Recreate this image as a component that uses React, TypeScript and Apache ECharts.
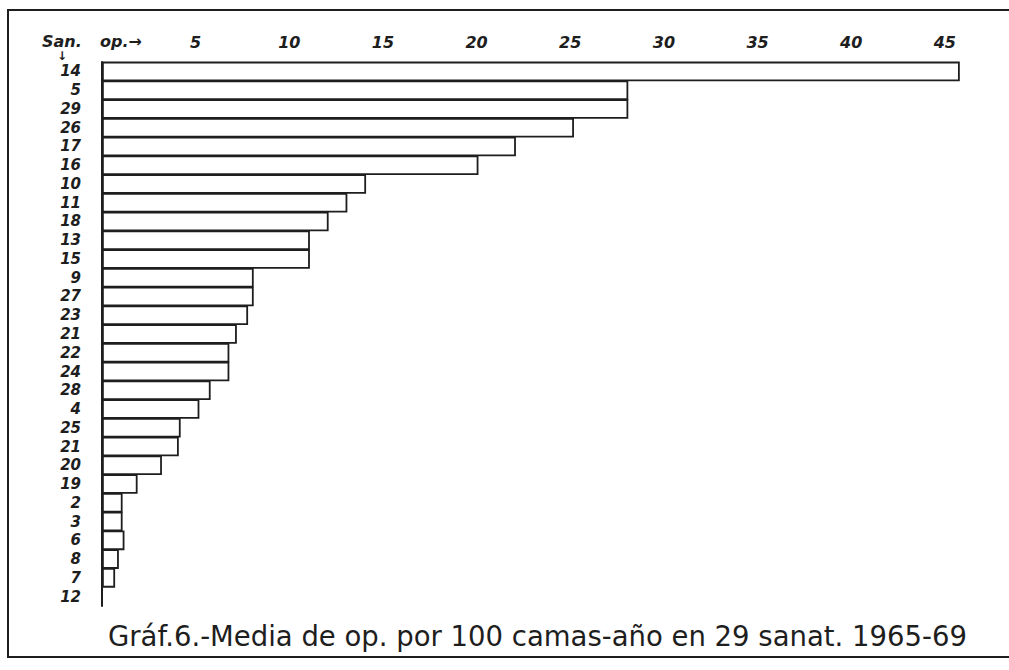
import React, { useEffect, useRef } from "react";
import * as echarts from "echarts";

const sanatoria = ["14", "5", "29", "26", "17", "16", "10", "11", "18", "13", "15", "9", "27", "23", "21", "22", "24", "28", "4", "25", "21", "20", "19", "2", "3", "6", "8", "7", "12"];
const operations = [45.8, 28.1, 28.1, 25.2, 22.1, 20.1, 14.1, 13.1, 12.1, 11.1, 11.1, 8.1, 8.1, 7.8, 7.2, 6.8, 6.8, 5.8, 5.2, 4.2, 4.1, 3.2, 1.9, 1.1, 1.1, 1.2, 0.9, 0.7, 0];
const tickValues = [5, 10, 15, 20, 25, 30, 35, 40, 45];
const titleText = "Gráf.6.-Media de op. por 100 camas-año en 29 sanat. 1965-69";

export default function App() {
  const ref = useRef<HTMLDivElement>(null);
  useEffect(() => {
    if (!ref.current) return;
    const chart = echarts.init(ref.current, null, { renderer: "svg" });
    const ink = "#1e1e1e";
    const labelFont = { fontFamily: "DejaVu Sans", fontStyle: "italic" as const, fontWeight: "bold" as const };
    chart.setOption({
      animation: false,
      backgroundColor: "#ffffff",
      title: {
        text: titleText,
        left: 103,
        top: 617,
        textStyle: { fontFamily: "DejaVu Sans", fontWeight: "normal", fontSize: 27.5, color: ink },
      },
      grid: { left: 102, top: 62, bottom: 64, right: 8, containLabel: false },
      xAxis: {
        type: "value",
        position: "top",
        min: 0,
        max: 48,
        interval: 5,
        axisLine: { show: false },
        axisTick: { show: false },
        splitLine: { show: false },
        axisLabel: {
          margin: 12,
          showMaxLabel: false,
          ...labelFont,
          fontSize: 16,
          color: ink,
          formatter: (v: number) => (tickValues.indexOf(v) >= 0 ? String(v) : ""),
        },
      },
      yAxis: {
        type: "category",
        inverse: true,
        data: sanatoria,
        axisLine: { show: true, lineStyle: { color: ink, width: 2 } },
        axisTick: { show: false },
        axisLabel: { interval: 0, margin: 21, ...labelFont, fontSize: 15, color: ink, align: "right" },
      },
      series: [
        {
          type: "bar",
          data: operations,
          barWidth: 19.6,
          itemStyle: { color: "#ffffff", borderColor: ink, borderWidth: 1.8 },
        },
      ],
      graphic: [
        {
          type: "polyline",
          shape: { points: [[1009, 10], [8, 10], [8, 657], [1009, 657]] },
          style: { stroke: ink, lineWidth: 2, fill: "none" },
        },
        {
          type: "text",
          x: 42,
          y: 33,
          style: { text: "San.", ...labelFont, fontSize: 16, fill: ink },
        },
        {
          type: "text",
          x: 57,
          y: 50,
          style: { text: "↓", fontFamily: "DejaVu Sans", fontWeight: "bold", fontSize: 12, fill: ink },
        },
        {
          type: "text",
          x: 100,
          y: 33,
          style: { text: "op.→", ...labelFont, fontSize: 16, fill: ink },
        },
      ],
    });
    return () => chart.dispose();
  }, []);
  return <div ref={ref} style={{ position: "absolute", left: 0, top: 0, width: 1009, height: 670 }} />;
}
